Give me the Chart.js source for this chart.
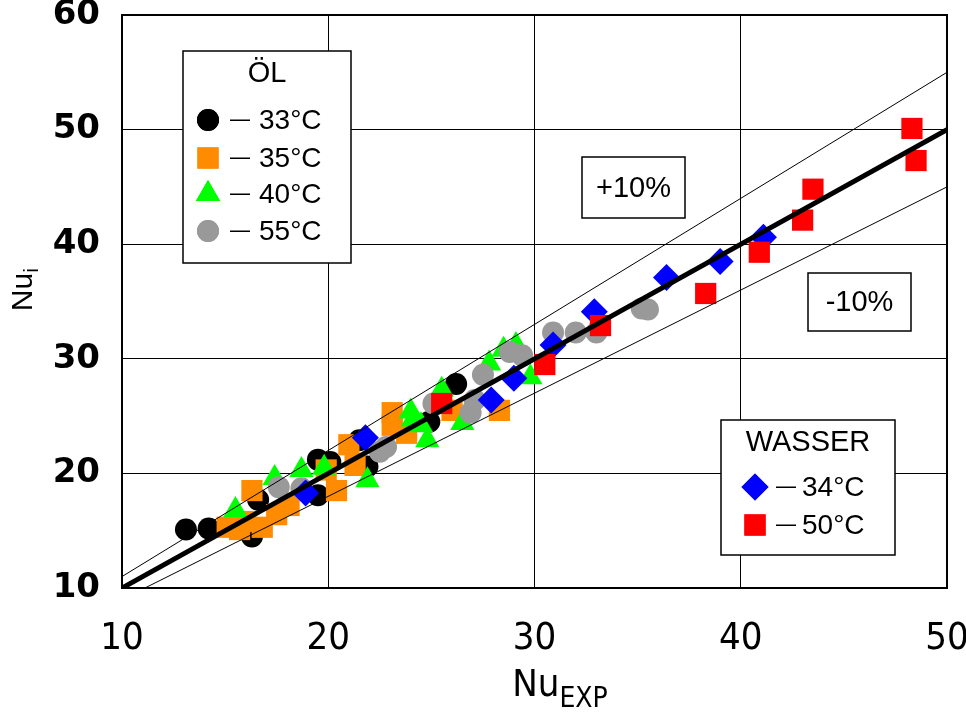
<!DOCTYPE html>
<html>
<head>
<meta charset="utf-8">
<script src="https://cdn.jsdelivr.net/npm/chart.js@4.4.1/dist/chart.umd.min.js"></script>
<style>
  html, body { margin: 0; background: #fff; }
</style>
</head>
<body>
<canvas id="nuChart" width="966" height="722"></canvas>
<script>
// ===== Nu_i vs Nu_EXP =====

const xTicks = [10, 20, 30, 40, 50];
const yTicks = [10, 20, 30, 40, 50, 60];

// reference line y = x and the +/-10% band
const bandX = [10, 50];
const diagY = [10, 50];
const upperY = [11, 55];
const lowerY = [9, 45];

// oil runs
const oil33X = [13.1, 14.2, 16.3, 16.6, 19.5, 20.1, 19.5, 21.9, 21.5, 24.9, 26.2];
const oil33Y = [15.1, 15.2, 14.5, 17.7, 21.2, 21.0, 18.1, 20.6, 22.9, 24.5, 27.8];

const oil35X = [15.1, 15.7, 16.0, 16.8, 17.5, 18.1, 16.3, 20.4, 19.9, 21.0, 21.3, 23.1, 23.1, 23.8, 26.0, 28.3];
const oil35Y = [15.3, 15.1, 15.8, 15.3, 16.4, 17.2, 18.5, 18.5, 20.3, 22.5, 20.7, 25.3, 24.2, 23.5, 25.5, 25.5];

const oil40X = [15.5, 17.4, 18.7, 19.8, 21.9, 24.0, 24.1, 24.5, 24.8, 25.5, 26.5, 27.8, 28.5, 29.1, 29.8];
const oil40Y = [16.8, 19.6, 20.3, 20.5, 19.4, 25.4, 24.7, 24.2, 22.9, 27.3, 24.4, 29.6, 30.8, 31.2, 28.4];

const oil55X = [17.6, 18.7, 22.5, 22.8, 25.1, 26.9, 27.1, 27.5, 28.8, 29.4, 30.9, 32.0, 33.0, 35.2, 35.5];
const oil55Y = [18.8, 18.7, 21.9, 22.3, 26.1, 25.3, 26.4, 28.6, 30.6, 30.3, 32.3, 32.3, 32.3, 34.4, 34.3];

// water runs
const water34X = [18.9, 21.8, 27.9, 29.0, 30.9, 32.9, 36.4, 39.0, 41.1];
const water34Y = [18.3, 23.1, 26.4, 28.3, 31.2, 34.1, 37.1, 38.5, 40.6];

const water50X = [25.5, 30.5, 33.2, 38.3, 40.9, 43.0, 43.5, 48.3, 48.5];
const water50Y = [26.1, 29.5, 32.9, 35.7, 39.3, 42.1, 44.8, 50.1, 47.3];

const pts = (xs, ys) => xs.map((x, i) => ({ x, y: ys[i] }));

const FONT = "'Liberation Sans', Arial, sans-serif";
const NARROW = "'Liberation Sans Narrow', 'DejaVu Sans Condensed', 'Liberation Sans', sans-serif";

function lineSet(ys, width) {
  return {
    type: 'line',
    data: pts(bandX, ys),
    borderColor: '#000',
    borderWidth: width,
    pointRadius: 0,
    fill: false,
    order: 0,
  };
}

function markerSet(label, xs, ys, color, style, radius, order) {
  return {
    label,
    data: pts(xs, ys),
    backgroundColor: color,
    borderColor: color,
    borderWidth: 0,
    pointStyle: style,
    pointRadius: radius,
    pointHoverRadius: radius,
    order,
  };
}

const datasets = [
  lineSet(diagY, 5),
  lineSet(upperY, 1),
  lineSet(lowerY, 1),
  markerSet('33°C', oil33X, oil33Y, '#000000', 'circle', 11, 6),
  markerSet('35°C', oil35X, oil35Y, '#ff8c00', 'rect', 15, 5),
  markerSet('40°C', oil40X, oil40Y, '#00ff00', 'triangle', 14, 4),
  markerSet('55°C', oil55X, oil55Y, '#999999', 'circle', 11, 3),
  markerSet('34°C', water34X, water34Y, '#0000ff', 'rectRot', 13.5, 2),
  markerSet('50°C', water50X, water50Y, '#ff0000', 'rect', 15, 1),
];

const legendGroups = [
  { title: 'ÖL', box: [183, 51, 351, 263], titleY: 74, markerX: 208, dashX: 230, textX: 259,
    rows: [[3, 120], [4, 158], [5, 194], [6, 231]] },
  { title: 'WASSER', box: [721, 420, 895, 555], titleY: 443, markerX: 755, dashX: 776, textX: 802,
    rows: [[7, 487], [8, 525]] },
];

const bandLabels = [
  { text: '+10%', box: [582, 157, 685, 218] },
  { text: '-10%', box: [808, 273, 911, 331] },
];

function marker(ctx, ds, x, y) {
  ctx.fillStyle = ds.backgroundColor;
  Chart.helpers.drawPoint(ctx, { pointStyle: ds.pointStyle, radius: ds.pointRadius, borderWidth: 0, rotation: 0 }, x, y);
  ctx.fill();
}

const decorPlugin = {
  id: 'decor',
  afterDatasetsDraw(chart) {
    const { ctx, chartArea: a } = chart;
    ctx.save();

    // plot frame
    ctx.strokeStyle = '#000';
    ctx.lineWidth = 2;
    ctx.strokeRect(a.left, a.top, a.right - a.left, a.bottom - a.top);

    ctx.lineWidth = 1.5;
    ctx.textBaseline = 'middle';

    bandLabels.forEach(b => {
      const [x0, y0, x1, y1] = b.box;
      ctx.fillStyle = '#fff';
      ctx.fillRect(x0, y0, x1 - x0, y1 - y0);
      ctx.strokeRect(x0, y0, x1 - x0, y1 - y0);
      ctx.fillStyle = '#000';
      ctx.font = '29px ' + FONT;
      ctx.textAlign = 'center';
      ctx.fillText(b.text, (x0 + x1) / 2, (y0 + y1) / 2 + 1);
    });

    legendGroups.forEach(g => {
      const [x0, y0, x1, y1] = g.box;
      ctx.fillStyle = '#fff';
      ctx.fillRect(x0, y0, x1 - x0, y1 - y0);
      ctx.strokeRect(x0, y0, x1 - x0, y1 - y0);
      ctx.fillStyle = '#000';
      ctx.font = '29px ' + FONT;
      ctx.textAlign = 'center';
      ctx.fillText(g.title, (x0 + x1) / 2, g.titleY);
      g.rows.forEach(([idx, y]) => {
        const ds = chart.data.datasets[idx];
        marker(ctx, ds, g.markerX, y);
        ctx.fillStyle = '#000';
        ctx.fillRect(g.dashX, y - 0.5, 20, 1.5);
        ctx.font = '28px ' + FONT;
        ctx.textAlign = 'left';
        ctx.fillText(ds.label, g.textX, y + 1);
      });
    });

    // axis titles with subscripts
    ctx.fillStyle = '#000';
    ctx.textAlign = 'left';
    ctx.textBaseline = 'alphabetic';
    ctx.font = '38px ' + NARROW;
    const nuW = ctx.measureText('Nu').width;
    ctx.font = '28px ' + NARROW;
    const expW = ctx.measureText('EXP').width;
    const tx = 560 - (nuW + expW) / 2;
    ctx.font = '38px ' + NARROW;
    ctx.fillText('Nu', tx, 696);
    ctx.font = '28px ' + NARROW;
    ctx.fillText('EXP', tx + nuW, 707);

    ctx.translate(32, 288);
    ctx.rotate(-Math.PI / 2);
    ctx.font = '30px ' + FONT;
    const nW = ctx.measureText('Nu').width;
    ctx.fillText('Nu', -nW / 2 - 4, 0);
    ctx.font = '21px ' + FONT;
    ctx.fillText('i', nW / 2 - 4, 6);

    ctx.restore();
  }
};

new Chart(document.getElementById('nuChart'), {
  type: 'scatter',
  data: { datasets },
  options: {
    responsive: false,
    animation: false,
    events: [],
    layout: { padding: { top: 15, right: 19, bottom: 0, left: 0 } },
    plugins: { legend: { display: false }, tooltip: { enabled: false } },
    scales: {
      x: {
        type: 'linear',
        min: xTicks[0],
        max: xTicks[xTicks.length - 1],
        afterBuildTicks: s => { s.ticks = xTicks.map(v => ({ value: v })); },
        afterFit: s => { s.height = 134; s.paddingLeft = 0; s.paddingRight = 0; },
        grid: { color: '#000', lineWidth: 1, drawTicks: false },
        border: { display: true, color: '#000', width: 2 },
        ticks: { color: '#000', padding: 28, font: { family: NARROW, size: 38 } },
      },
      y: {
        type: 'linear',
        min: yTicks[0],
        max: yTicks[yTicks.length - 1],
        afterBuildTicks: s => { s.ticks = yTicks.map(v => ({ value: v })); },
        afterFit: s => { s.width = 122; s.paddingTop = 0; s.paddingBottom = 0; },
        grid: { color: '#000', lineWidth: 1, drawTicks: false },
        border: { display: true, color: '#000', width: 2 },
        ticks: { color: '#000', padding: 22, font: { family: "'DejaVu Sans', sans-serif", size: 34, weight: 'bold' } },
      },
    },
  },
  plugins: [decorPlugin],
});
</script>
</body>
</html>
